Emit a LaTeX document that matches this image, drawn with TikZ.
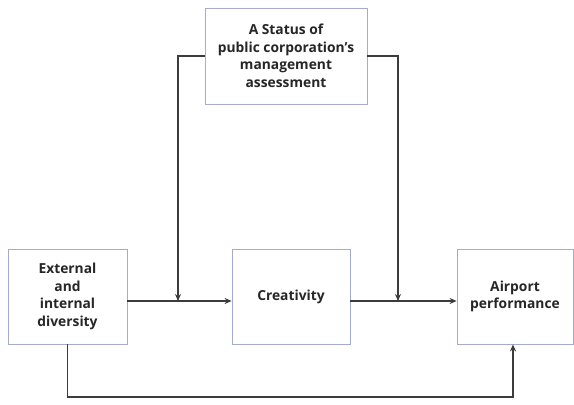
\documentclass[tikz,border=0pt]{standalone}
\usepackage{fontspec}
\setmainfont{Open Sans}
\usetikzlibrary{arrows.meta}
\definecolor{boxline}{RGB}{165,172,200}
\definecolor{wire}{RGB}{60,60,60}
\tikzset{
    varbox/.style={draw=boxline,line width=0.8pt,fill=white,align=center,
        font=\bfseries\fontsize{13.8}{17.5}\selectfont,text=black!85,inner sep=0pt},
    link/.style={draw=wire,line width=1.6pt},
    tip/.style={-{Stealth[length=7pt,width=6pt]}}
}
\begin{document}
\begin{tikzpicture}[x=1pt,y=-1pt]
    \useasboundingbox (0,0) rectangle (574,405);
    % variables
    \node[varbox,minimum width=162pt,minimum height=96pt] (mod) at (286,56) {A Status of\\public corporation's\\management\\assessment};
    \node[varbox,minimum width=119pt,minimum height=95pt] (div) at (67.5,296.5) {External\\and\\internal\\diversity};
    \node[varbox,minimum width=118pt,minimum height=95pt] (cre) at (291,296.5) {Creativity};
    \node[varbox,minimum width=116pt,minimum height=95pt] (air) at (515,296.5) {Airport\\performance};
    \coordinate (m1) at (178,301);
    \coordinate (m2) at (398,301);
    \coordinate (low) at (67.5,397);
    % paths
    \draw[link,tip] ([yshift=-4.5pt]div.east) -- ([yshift=-4.5pt]cre.west);
    \draw[link,tip] ([yshift=-4.5pt]cre.east) -- ([yshift=-4.5pt]air.west);
    \draw[link,tip] (mod.west) -| (m1);
    \draw[link,tip] (mod.east) -| (m2);
    \draw[link,tip] (div.south) -- (low) -| ([xshift=-2pt]air.south);
\end{tikzpicture}
\end{document}
